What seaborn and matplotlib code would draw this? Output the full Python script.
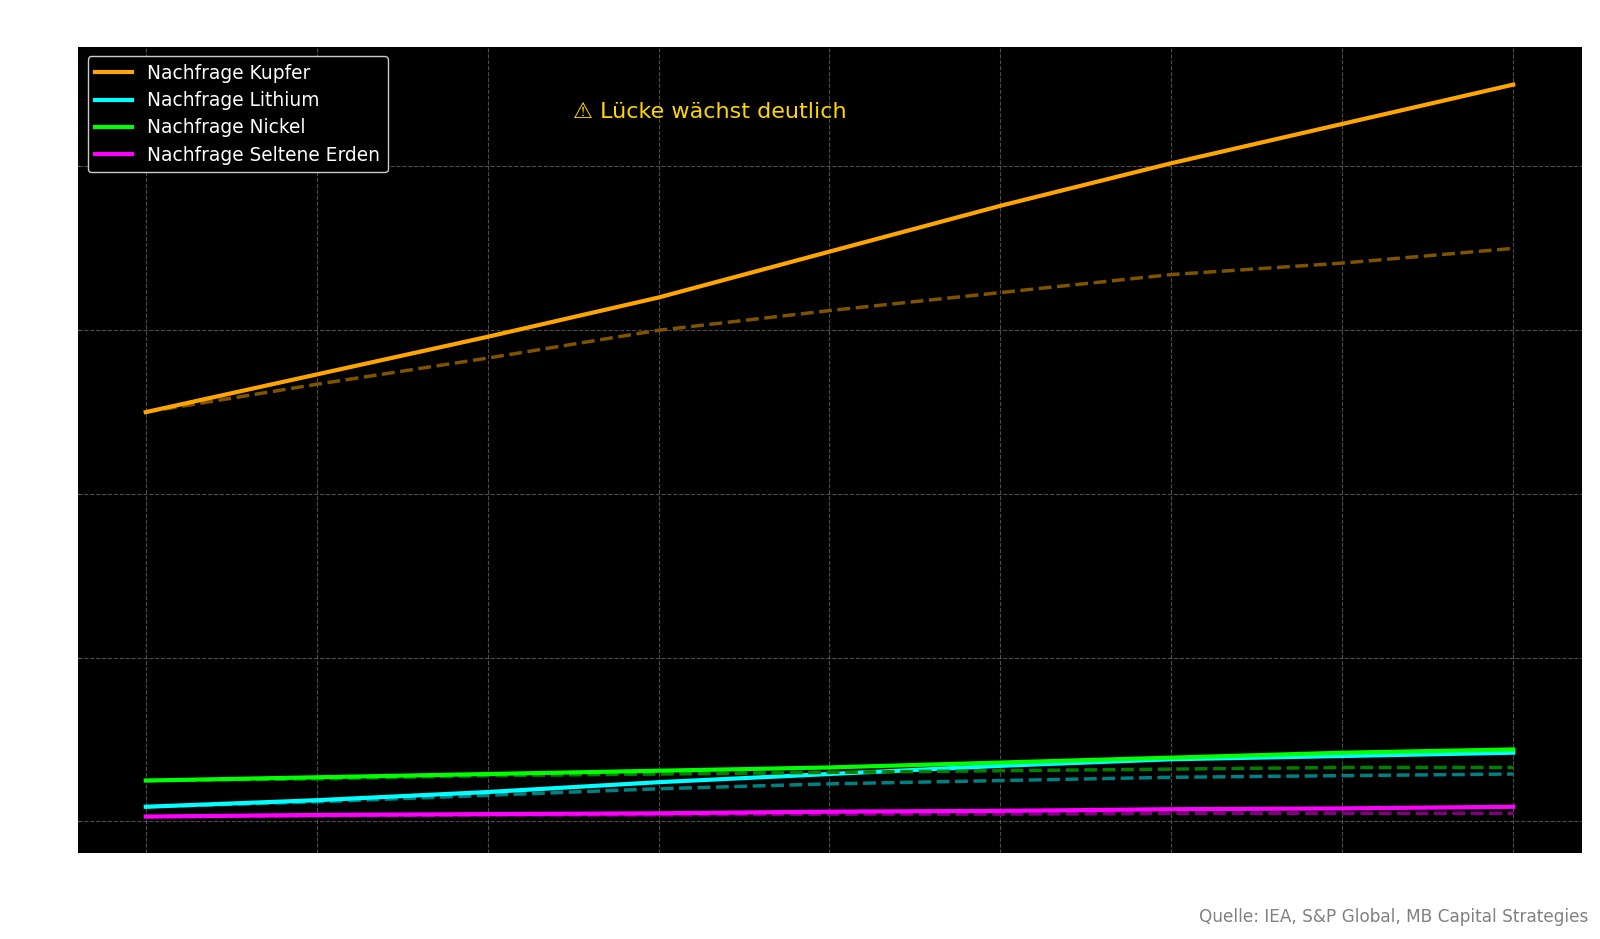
import matplotlib
matplotlib.use("Agg")
import matplotlib.pyplot as plt
import seaborn as sns

years = [2024, 2025, 2026, 2027, 2028, 2029, 2030, 2031, 2032]
kupfer_nachfrage = [25.0, 27.3, 29.6, 32.0, 34.8, 37.6, 40.2, 42.6, 45.0]
kupfer_angebot = [25.0, 26.7, 28.3, 30.0, 31.2, 32.3, 33.4, 34.1, 35.0]
lithium_nachfrage = [0.9, 1.3, 1.8, 2.4, 2.9, 3.4, 3.8, 4.0, 4.2]
lithium_angebot = [0.9, 1.2, 1.6, 2.0, 2.3, 2.5, 2.7, 2.8, 2.9]
nickel_nachfrage = [2.5, 2.7, 2.9, 3.1, 3.3, 3.6, 3.9, 4.2, 4.4]
nickel_angebot = [2.5, 2.6, 2.8, 2.9, 3.0, 3.1, 3.2, 3.3, 3.3]
erden_nachfrage = [0.3, 0.4, 0.45, 0.5, 0.6, 0.65, 0.75, 0.8, 0.9]
erden_angebot = [0.3, 0.35, 0.4, 0.4, 0.45, 0.45, 0.5, 0.5, 0.5]

plt.style.use("dark_background")
plt.rcParams["font.family"] = ["DejaVu Sans"]

fig, ax = plt.subplots(figsize=(16, 9.39), dpi=100)
fig.patch.set_facecolor("white")
ax.set_facecolor("black")
fig.subplots_adjust(left=0.049, right=0.9885, top=0.95, bottom=0.092)

series = [
    ("Nachfrage Kupfer", kupfer_nachfrage, kupfer_angebot, "#ffa500", "#7f5300"),
    ("Nachfrage Lithium", lithium_nachfrage, lithium_angebot, "#00ffff", "#008080"),
    ("Nachfrage Nickel", nickel_nachfrage, nickel_angebot, "#00ff00", "#008000"),
    ("Nachfrage Seltene Erden", erden_nachfrage, erden_angebot, "#ff00ff", "#800080"),
]
for name, dem, sup, c, cd in series:
    sns.lineplot(x=years, y=sup, ax=ax, color=cd, linestyle="--", linewidth=2.5)
    sns.lineplot(x=years, y=dem, ax=ax, color=c, linewidth=3, label=name)

ax.set_xlim(2023.606, 2032.4)
ax.set_ylim(-1.9, 47.3)
ax.set_xticks(years)
ax.set_yticks([0, 10, 20, 30, 40])
ax.grid(True, color="gray", linestyle="--", alpha=0.6)
for s in ax.spines.values():
    s.set_visible(False)
ax.tick_params(colors="white")

ax.text(2026.5, 43.3, "⚠ Lücke wächst deutlich", color="#ffd700", fontsize=16, va="center")
leg = ax.legend(loc="upper left", fontsize=13.4, facecolor="black", edgecolor="#cccccc",
                framealpha=1, labelspacing=0.45)
for t in leg.get_texts():
    t.set_color("white")

fig.text(0.993, 0.018, "Quelle: IEA, S&P Global, MB Capital Strategies", color="gray", fontsize=12.2, ha="right")
fig.savefig("out.png", dpi=100, facecolor=fig.get_facecolor())
